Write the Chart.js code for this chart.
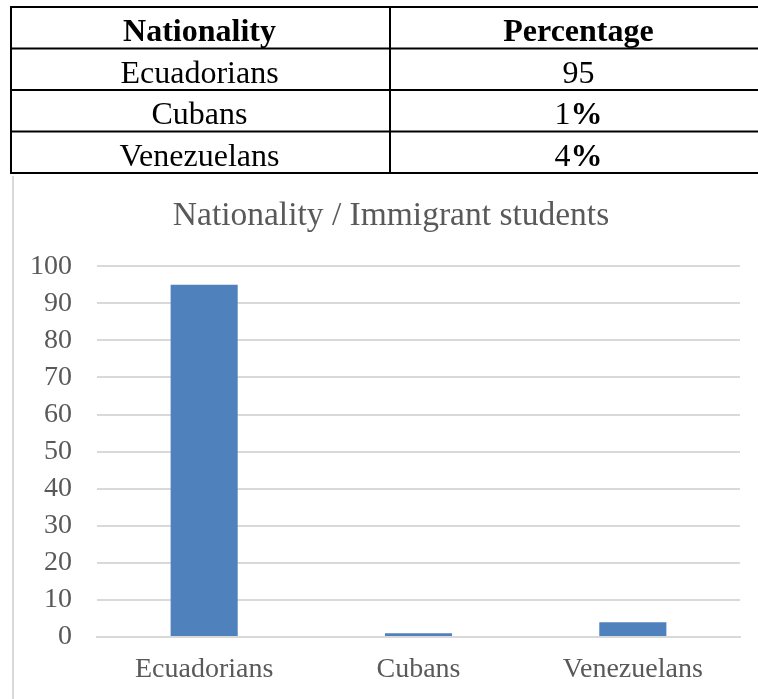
<!DOCTYPE html>
<html>
<head>
<meta charset="utf-8">
<script src="https://cdn.jsdelivr.net/npm/chart.js@4/dist/chart.umd.min.js"></script>
<style>
  html, body { margin: 0; padding: 0; background: #fff; overflow: hidden; }
  body { width: 758px; height: 699px; position: relative; }
  #tbl { position: absolute; left: 0; top: 0; }
  #edge { position: absolute; left: 12px; top: 176px; width: 2px; height: 523px; background: #d9d9d9; }
  #box { position: absolute; left: 0; top: 176px; width: 758px; height: 523px; }
</style>
</head>
<body>
<canvas id="tbl" width="758" height="176"></canvas>
<div id="edge"></div>
<div id="box"><canvas id="chart"></canvas></div>
<script>
var headers = ["Nationality", "Percentage"];
var categories = ["Ecuadorians", "Cubans", "Venezuelans"];
var values = [95, 1, 4];
var tableNums = ["95", "1", "4"];
var tableUnits = ["", "%", "%"];

// table drawn on its own canvas (serif text)
var tctx = document.getElementById("tbl").getContext("2d");
var rowLines = [6, 47.5, 89, 130.5, 172];
var colLeft = 10, colMid = 389, colRight = 768;
tctx.fillStyle = "#000";
rowLines.forEach(function (y) { tctx.fillRect(colLeft, y, colRight - colLeft, 2); });
tctx.fillRect(colLeft, rowLines[0], 2, rowLines[4] - rowLines[0] + 2);
tctx.fillRect(colMid, rowLines[0], 2, rowLines[4] - rowLines[0] + 2);

var c1 = (colLeft + colMid) / 2, c2 = (colMid + colRight) / 2;
tctx.textBaseline = "middle";
tctx.textAlign = "left";
function cell(parts, cx, cy) {
  var w = 0;
  parts.forEach(function (p) { tctx.font = p[1] + " 32px 'Liberation Serif'"; w += tctx.measureText(p[0]).width; });
  var x = cx - w / 2;
  parts.forEach(function (p) {
    tctx.font = p[1] + " 32px 'Liberation Serif'";
    tctx.fillText(p[0], x, cy);
    x += tctx.measureText(p[0]).width;
  });
}
function rowMid(i) { return (rowLines[i] + rowLines[i + 1]) / 2 + 6; }
cell([[headers[0], "bold"]], c1, rowMid(0));
cell([[headers[1], "bold"]], c2, rowMid(0));
categories.forEach(function (c, i) {
  cell([[c, "normal"]], c1, rowMid(i + 1));
  cell([[tableNums[i], "normal"], [tableUnits[i], "bold"]], c2, rowMid(i + 1));
});

// move the title so it is centred like the original
var titleShift = {
  id: "titleShift",
  afterLayout: function (chart) {
    var t = chart.titleBlock;
    if (t) { t.left += 21; t.right += 21; }
  },
};

var grey = "#595959";
var ctx = document.getElementById("chart").getContext("2d");
var myChart = new Chart(ctx, {
  type: "bar",
  data: {
    labels: categories,
    datasets: [
      {
        label: "Nationality",
        data: values,
        backgroundColor: "#4f81bd",
        borderWidth: 0,
        categoryPercentage: 1,
        barPercentage: 0.313,
      },
    ],
  },
  options: {
    responsive: true,
    maintainAspectRatio: false,
    animation: false,
    layout: { padding: { left: 0, right: 18, top: 0, bottom: 12 } },
    plugins: {
      legend: { display: false },
      tooltip: { enabled: false },
      title: {
        display: true,
        text: "Nationality / Immigrant students",
        color: grey,
        font: { family: "Liberation Serif", size: 33.5, weight: "normal" },
        padding: { top: 20, bottom: 30 },
      },
    },
    scales: {
      x: {
        grid: { display: false, drawTicks: false },
        border: { display: true, color: "#d9d9d9", width: 2 },
        ticks: { color: grey, font: { family: "Liberation Serif", size: 28 }, padding: 16 },
        afterFit: function (scale) { scale.height = 50; },
      },
      y: {
        min: 0,
        max: 100,
        ticks: { stepSize: 10, autoSkip: false, color: grey, font: { family: "Liberation Serif", size: 28 }, padding: 25 },
        grid: { color: "#d9d9d9", lineWidth: 2, drawTicks: false },
        border: { display: false },
        afterFit: function (scale) { scale.width = 97; },
      },
    },
  },
  plugins: [titleShift],
});
</script>
</body>
</html>
